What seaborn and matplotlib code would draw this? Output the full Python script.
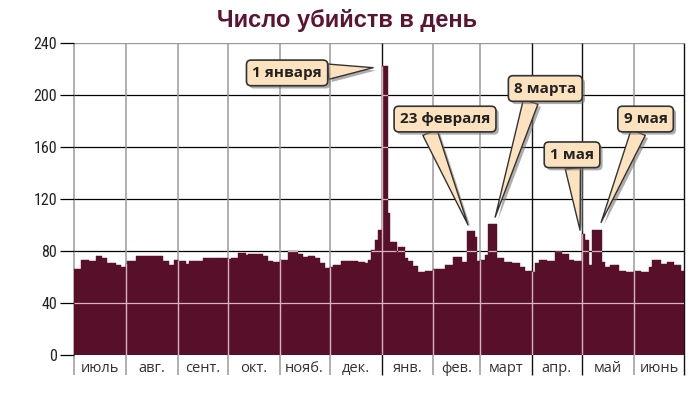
import numpy as np
import pandas as pd
import matplotlib
matplotlib.use("Agg")
import matplotlib.pyplot as plt
import seaborn as sns
from matplotlib.path import Path
import matplotlib.patheffects as pe
from matplotlib import font_manager as fm

# ---------------- data ----------------
months = ['июль', 'авг.', 'сент.', 'окт.', 'нояб.', 'дек.',
          'янв.', 'фев.', 'март', 'апр.', 'май', 'июнь']
month_days = [31, 31, 30, 31, 30, 31, 31, 28, 31, 30, 31, 30]

# daily murders, stored as runs of equal value (level, number of days)
jul_levels = [66, 73, 72, 76, 75, 71, 69, 68]
jul_runs   = [4, 5, 4, 4, 3, 5, 3, 3]
aug_levels = [70, 72, 76.5, 76, 72, 69, 73]
aug_runs   = [1, 5, 6, 10, 4, 3, 2]
sep_levels = [72.5, 70, 72, 74.6, 75, 74.6]
sep_runs   = [5, 2, 8, 4, 10, 1]
oct_levels = [74, 75, 78.7, 77, 78, 77.5, 76.4, 72.6, 71.8]
oct_runs   = [2, 4, 5, 1, 6, 3, 3, 3, 4]
nov_levels = [73, 80.3, 78, 75.6, 76, 74.6, 71, 66.7]
nov_runs   = [5, 6, 3, 3, 4, 3, 3, 3]
dec_levels = [67.4, 69.2, 72.3, 71.3, 70.5, 73, 81, 88.5, 96]
dec_runs   = [2, 5, 10, 4, 2, 2, 2, 2, 2]
jan_levels = [222, 109, 87, 79, 83, 74.4, 72, 68.5, 64, 64.6]
jan_runs   = [4, 1, 4, 1, 4, 2, 3, 3, 4, 5]
feb_levels = [66, 69, 75.6, 71.8, 95.6, 90.5, 72]
feb_runs   = [7, 5, 5, 3, 5, 1, 2]
mar_levels = [73, 77, 100.8, 74.4, 71.8, 70.5, 68, 65]
mar_runs   = [3, 2, 5, 4, 5, 5, 3, 4]
apr_levels = [64, 70.5, 73, 72, 79.5, 78, 73, 72.6]
apr_runs   = [2, 2, 5, 5, 4, 4, 3, 5]
may_levels = [93, 88.5, 69, 96, 71.8, 68, 69, 64.6, 64]
may_runs   = [2, 2, 2, 6, 2, 3, 5, 4, 5]
jun_levels = [65, 64, 68, 73, 70, 71.8, 69, 64.6]
jun_runs   = [4, 5, 2, 5, 4, 4, 4, 2]

yticks = [0, 40, 80, 120, 160, 200, 240]

callout_labels = ['1 января', '23 февраля', '8 марта', '1 мая', '9 мая']

# ---------------- build table ----------------
levels = (jul_levels + aug_levels + sep_levels + oct_levels + nov_levels + dec_levels +
          jan_levels + feb_levels + mar_levels + apr_levels + may_levels + jun_levels)
runs = (jul_runs + aug_runs + sep_runs + oct_runs + nov_runs + dec_runs +
        jan_runs + feb_runs + mar_runs + apr_runs + may_runs + jun_runs)
daily = np.repeat(levels, runs)
df = pd.DataFrame({'day': np.arange(len(daily)) + 0.5, 'murders': daily})
n_days = len(daily)
bounds = np.concatenate([[0], np.cumsum(month_days)])
mids = bounds[:-1] + np.array(month_days) / 2

BAR = '#58102a'
TITLE = '#5c1430'
BOX_FC = '#fde2bf'
BOX_EC = '#333333'

installed = {f.name for f in fm.fontManager.ttflist}
narrow = [f for f in ['Liberation Sans Narrow', 'DejaVu Sans Condensed', 'Roboto Condensed',
                      'Roboto'] if f in installed] + ['DejaVu Sans']

sns.set_theme(style='white')
plt.rcParams['font.family'] = ['Liberation Sans', 'DejaVu Sans']

fig = plt.figure(figsize=(6.94, 3.93), dpi=100)
ax = fig.add_axes([74 / 694, 38 / 393, 610 / 694, 312 / 393])

sns.barplot(data=df, x='day', y='murders', native_scale=True, width=1,
            color=BAR, saturation=1, edgecolor=BAR, linewidth=0.3,
            errorbar=None, ax=ax, zorder=1)

ax.set_xlim(0, n_days)
ax.set_ylim(0, 240)

# background grid
ax.hlines(yticks[1:-1], 0, n_days, color='black', lw=0.9, zorder=0.5)
ax.hlines([240], 0, n_days, color='#9a9a9a', lw=1.0, zorder=0.5)
dark_idx = {6, 9, 10, 12}
gray_b = [b for i, b in enumerate(bounds) if i not in dark_idx]
dark_b = [b for i, b in enumerate(bounds) if i in dark_idx]
ax.vlines(gray_b, -15.5, 240, color='#9a9a9a', lw=1.1, zorder=0.5, clip_on=False)
ax.vlines(dark_b, -15.5, 240, color='#111111', lw=1.0, zorder=0.5, clip_on=False)

# light grid lines drawn across the bars only
verts, codes = [], []
for p in ax.patches:
    x0, w, h = p.get_x(), p.get_width(), p.get_height()
    verts += [(x0, 0), (x0 + w, 0), (x0 + w, h), (x0, h), (x0, 0)]
    codes += [Path.MOVETO, Path.LINETO, Path.LINETO, Path.LINETO, Path.CLOSEPOLY]
clip = Path(verts, codes)
hl = ax.hlines(yticks[1:-1], 0, n_days, color='#d6b4bf', lw=0.9, zorder=3)
vl = ax.vlines(bounds[1:-1], 0, 240, color='#d6b4bf', lw=1.0, zorder=3)
hl.set_clip_path(clip, ax.transData)
vl.set_clip_path(clip, ax.transData)

for s in ax.spines.values():
    s.set_visible(False)

ax.set_yticks(yticks)
ax.set_yticklabels([str(t) for t in yticks], family=narrow)
ax.tick_params(axis='y', length=10, width=0.9, color='black', labelsize=11.5,
               labelcolor='#222222', pad=2, left=True)
ax.set_xticks(mids)
ax.set_xticklabels(months, family=['Open Sans', 'DejaVu Sans'])
ax.tick_params(axis='x', length=0, labelsize=10.5, labelcolor='#333333', pad=4)
ax.set_xlabel('')
ax.set_ylabel('')

fig.text(0.5, 0.947, 'Число убийств в день', ha='center', va='center',
         fontsize=17, fontweight='bold', color=TITLE,
         family=['Liberation Sans', 'DejaVu Sans'])

# callouts: (label position, tip position, start point on box)
text_pos = [(127.5, 217), (222, 181.5), (282, 205), (298, 154), (342, 181.5)]
tip_pos = [(179, 221), (235.8, 100), (252, 106), (302.8, 96), (315.4, 102)]
rel = [(1.0, 0.55), (0.3, 0.05), (0.3, 0.05), (0.5, 0.05), (0.4, 0.05)]
shadow = [pe.SimplePatchShadow(offset=(2, -2), shadow_rgbFace='#777777', alpha=0.6), pe.Normal()]
for lab, tp, xy, rp in zip(callout_labels, text_pos, tip_pos, rel):
    ann = ax.annotate(lab, xy=xy, xytext=tp, ha='center', va='center',
                      fontsize=11, fontweight='bold', color='#222222',
                      family=['Open Sans', 'DejaVu Sans'], zorder=6,
                      bbox=dict(boxstyle='round,pad=0.38,rounding_size=0.3',
                                fc=BOX_FC, ec=BOX_EC, lw=1.2),
                      arrowprops=dict(arrowstyle='wedge,tail_width=1.0,shrink_factor=0.5',
                                      fc=BOX_FC, ec=BOX_EC, lw=1.0, relpos=rp,
                                      shrinkA=0, shrinkB=0))
    ann.get_bbox_patch().set_path_effects(shadow)
    ann.arrow_patch.set_path_effects(shadow)

fig.savefig('out.png', dpi=100)
